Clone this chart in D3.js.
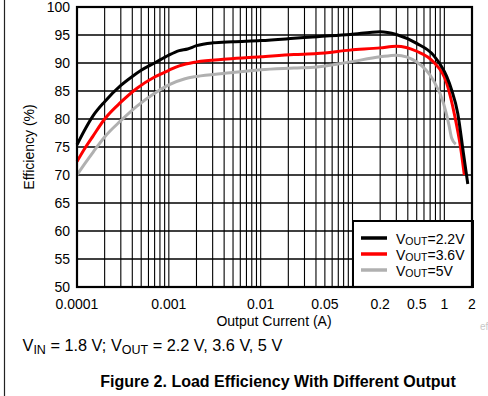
<!DOCTYPE html>
<html>
<head>
<meta charset="utf-8">
<script src="https://cdn.jsdelivr.net/npm/d3@7"></script>
<style>
  body { margin: 0; background: #fff; }
  svg { display: block; font-family: Arial, "Liberation Sans", sans-serif; }
</style>
</head>
<body>
<svg id="chart" width="488" height="396"></svg>
<script>
// values (current in A, efficiency in %)
var current22 = [0.0001, 0.00012, 0.00015, 0.0002, 0.0003, 0.0004, 0.0005, 0.0007, 0.001, 0.0013, 0.0016, 0.002, 0.003, 0.005, 0.01, 0.023, 0.041, 0.094, 0.2, 0.3, 0.5, 0.76, 1.06, 1.2, 1.4, 1.61, 1.8];
var eff22     = [75.4, 77.9, 80.6, 83.1, 86.0, 87.6, 88.7, 90.0, 91.4, 92.2, 92.5, 93.1, 93.6, 93.8, 94.0, 94.4, 94.7, 95.1, 95.6, 95.1, 93.5, 91.4, 87.6, 85.2, 81.0, 74.0, 68.4];

var current36 = [0.0001, 0.00012, 0.00015, 0.0002, 0.0003, 0.00045, 0.0007, 0.001, 0.0013, 0.002, 0.0043, 0.01, 0.023, 0.041, 0.094, 0.2, 0.3, 0.5, 0.76, 1.06, 1.3, 1.5, 1.65];
var eff36     = [72.4, 74.6, 77.0, 80.0, 83.0, 85.5, 87.5, 88.7, 89.5, 90.2, 90.7, 91.1, 91.5, 91.7, 92.3, 92.7, 93.0, 92.1, 90.2, 86.4, 80.5, 75.0, 70.0];

var current5 = [0.0001, 0.00012, 0.00015, 0.0002, 0.0003, 0.00045, 0.0007, 0.001, 0.0015, 0.002, 0.0043, 0.01, 0.023, 0.041, 0.094, 0.2, 0.3, 0.5, 0.76, 0.98, 1.12, 1.2, 1.33];
var eff5     = [70.0, 71.9, 74.1, 76.8, 79.7, 82.3, 84.6, 86.1, 87.2, 87.6, 88.2, 88.8, 89.1, 89.3, 90.2, 91.1, 91.4, 90.2, 86.9, 82.8, 79.0, 76.6, 75.5];

var seriesNames  = ['2.2V', '3.6V', '5V'];
var seriesColors = ['#000000', '#ff0000', '#b0b0b0'];

var xTickValues = [0.0001, 0.001, 0.01, 0.05, 0.2, 0.5, 1, 2];
var xTickLabels = ['0.0001', '0.001', '0.01', '0.05', '0.2', '0.5', '1', '2'];
var yTickValues = [50, 55, 60, 65, 70, 75, 80, 85, 90, 95, 100];

var svg = d3.select('#chart');
var plotLeft = 77, plotTop = 7, plotRight = 472, plotBottom = 287;

var x = d3.scaleLog().domain([0.0001, 2]).range([plotLeft, plotRight]);
var y = d3.scaleLinear().domain([50, 100]).range([plotBottom, plotTop]);

// page border on the left
svg.append('line')
    .attr('x1', 4.5).attr('x2', 4.5).attr('y1', 0).attr('y2', 396)
    .attr('stroke', '#222').attr('stroke-width', 1.2);

// vertical grid: every minor step of each decade
var gridX = [];
[0.0001, 0.001, 0.01, 0.1, 1].forEach(function (d) {
    for (var k = 1; k <= 9; k++) {
        var v = d * k;
        if (v > 0.0001 && v < 2) gridX.push(v);
    }
});
svg.append('g').selectAll('line')
    .data(gridX).enter()
    .append('line')
    .attr('x1', function (d) { return x(d); })
    .attr('x2', function (d) { return x(d); })
    .attr('y1', plotTop).attr('y2', plotBottom)
    .attr('stroke', '#000').attr('stroke-width', 1.1);

svg.append('g').selectAll('line')
    .data(yTickValues.slice(1, -1)).enter()
    .append('line')
    .attr('x1', plotLeft).attr('x2', plotRight)
    .attr('y1', function (d) { return y(d); })
    .attr('y2', function (d) { return y(d); })
    .attr('stroke', '#000').attr('stroke-width', 1.3);

// curves
var line = d3.line()
    .x(function (d) { return x(d[0]); })
    .y(function (d) { return y(d[1]); })
    .curve(d3.curveMonotoneX);

var allSeries = [
    d3.zip(current22, eff22),
    d3.zip(current36, eff36),
    d3.zip(current5, eff5)
];
// draw gray first so black sits on top
[2, 1, 0].forEach(function (i) {
    svg.append('path')
        .datum(allSeries[i])
        .attr('d', line)
        .attr('fill', 'none')
        .attr('stroke', seriesColors[i])
        .attr('stroke-width', 3)
        .attr('stroke-linejoin', 'round');
});

// legend
var legend = svg.append('g');
legend.append('rect')
    .attr('x', 353).attr('y', 221).attr('width', 120).attr('height', 66)
    .attr('fill', '#fff').attr('stroke', '#000').attr('stroke-width', 2);
seriesNames.forEach(function (name, i) {
    var ly = 238 + i * 16;
    legend.append('line')
        .attr('x1', 361).attr('x2', 387).attr('y1', ly).attr('y2', ly)
        .attr('stroke', seriesColors[i]).attr('stroke-width', 3.5);
    var t = legend.append('text')
        .attr('x', 396).attr('y', ly + 5.5)
        .attr('font-size', 14).attr('fill', '#000');
    t.append('tspan').text('V');
    t.append('tspan').attr('font-size', 10.5).attr('dy', 1.5).text('OUT');
    t.append('tspan').attr('dy', -1.5).text('=' + name);
});

// plot frame
svg.append('rect')
    .attr('x', plotLeft).attr('y', plotTop)
    .attr('width', plotRight - plotLeft).attr('height', plotBottom - plotTop)
    .attr('fill', 'none').attr('stroke', '#000').attr('stroke-width', 2.2);

// axes labels
svg.append('g').selectAll('text')
    .data(yTickValues).enter()
    .append('text')
    .attr('x', 70)
    .attr('y', function (d) { return y(d); })
    .attr('dy', '0.36em')
    .attr('text-anchor', 'end')
    .attr('font-size', 14)
    .text(function (d) { return d; });

svg.append('g').selectAll('text')
    .data(xTickValues).enter()
    .append('text')
    .attr('x', function (d) { return x(d); })
    .attr('y', 308.5)
    .attr('text-anchor', 'middle')
    .attr('font-size', 14)
    .text(function (d, i) { return xTickLabels[i]; });

svg.append('text')
    .attr('x', 274).attr('y', 326)
    .attr('text-anchor', 'middle').attr('font-size', 14)
    .text('Output Current (A)');

svg.append('text')
    .attr('transform', 'translate(34,147) rotate(-90)')
    .attr('text-anchor', 'middle').attr('font-size', 14)
    .text('Efficiency (%)');

// captions
var cap = svg.append('text')
    .attr('x', 22.5).attr('y', 351).attr('font-size', 16.3);
cap.append('tspan').text('V');
cap.append('tspan').attr('font-size', 12.5).attr('dy', 2.5).text('IN');
cap.append('tspan').attr('dy', -2.5).text(' = 1.8 V; V');
cap.append('tspan').attr('font-size', 12.5).attr('dy', 2.5).text('OUT');
cap.append('tspan').attr('dy', -2.5).text(' = 2.2 V, 3.6 V, 5 V');

svg.append('text')
    .attr('x', 278).attr('y', 387)
    .attr('text-anchor', 'middle')
    .attr('font-size', 16).attr('font-weight', 'bold')
    .text('Figure 2. Load Efficiency With Different Output');

svg.append('text')
    .attr('x', 480).attr('y', 330)
    .attr('font-size', 10).attr('fill', '#c8c8c8')
    .text('ef');
</script>
</body>
</html>
